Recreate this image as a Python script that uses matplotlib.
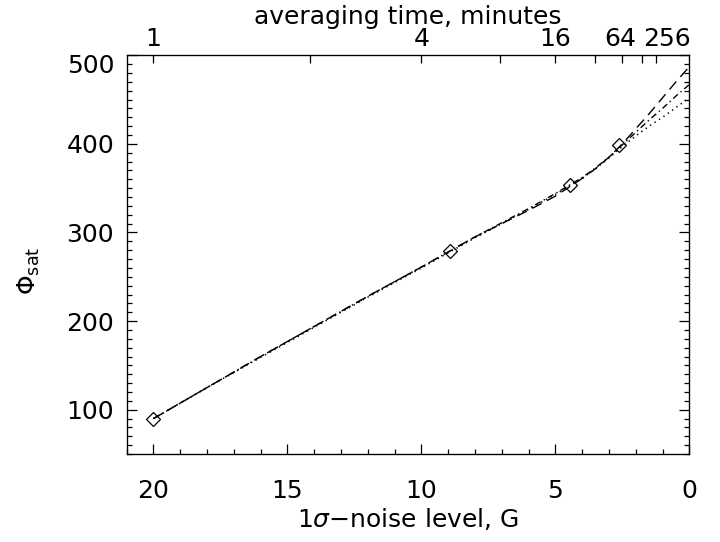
import numpy as np
import matplotlib
matplotlib.use('Agg')
import matplotlib.pyplot as plt
from matplotlib.ticker import MultipleLocator, FixedLocator, NullFormatter
from matplotlib.transforms import ScaledTranslation

# measured saturation flux vs. noise level
noise_obs = [20.0, 8.94, 4.47, 2.63]
phi_obs = [90, 279, 354, 399]

# fitted curves, sampled along the noise axis
fit_noise = [20, 18, 16, 14, 12, 10, 9, 8, 7, 6, 5, 4.5, 4, 3.5, 3, 2.5, 2, 1.5, 1, 0.5, 0]
phi_dashed = [90, 125, 160, 194, 228, 261, 278, 295, 310, 325, 341, 351, 361, 372, 385, 400, 417, 434, 452, 470, 487]
phi_dashdot = [90, 125, 160, 194, 228, 261, 278, 295, 311, 327, 344, 353, 362, 373, 385, 399, 413, 427, 440, 454, 467]
phi_dotted = [90, 125, 159, 193, 227, 260, 277, 294, 310, 326, 343, 352, 361, 372, 384, 397, 409, 420, 430, 441, 452]

# averaging times for the top axis (noise ~ 20 G / sqrt(t))
top_times = [1, 4, 16, 64, 256]
top_minor_times = [2, 8, 32, 128]

plt.rcParams['font.family'] = ['DejaVu Sans']
plt.rcParams['mathtext.fontset'] = 'dejavusans'
fs = 18

fig = plt.figure(figsize=(7.2, 5.42), dpi=100)
ax = fig.add_axes([126.7 / 720, 1 - 454 / 542, (689.3 - 126.7) / 720, (454 - 55.3) / 542])

ax.plot(fit_noise, phi_dashed, color='black', lw=1.0, dashes=(7.5, 4.5))
ax.plot(fit_noise, phi_dashdot, color='black', lw=1.0, dashes=(4.5, 2.5, 1, 2.5))
ax.plot(fit_noise, phi_dotted, color='black', lw=1.1, dashes=(0.9, 2.6))
ax.plot(noise_obs, phi_obs, ls='none', marker='D', ms=7.5, mfc='none', mec='black', mew=0.9)

ax.set_xlim(21, 0)
ax.set_ylim(50, 500)

ax.xaxis.set_major_locator(MultipleLocator(5))
ax.xaxis.set_minor_locator(MultipleLocator(1))
ax.yaxis.set_major_locator(MultipleLocator(100))
ax.yaxis.set_minor_locator(MultipleLocator(10))
ax.tick_params(which='both', direction='in', top=False, right=True, labelsize=fs, width=0.9)
ax.tick_params(which='major', length=7.5)
ax.tick_params(which='minor', length=3.7)
ax.tick_params(axis='x', pad=18)
ax.tick_params(axis='y', pad=9)

ax.set_xlabel('1$\\sigma$\u2212noise level, G', fontsize=fs, labelpad=2)
ax.set_ylabel('$\\Phi_{\\rm sat}$', fontsize=fs)
ax.yaxis.set_label_coords(-0.15, 0.46)

for sp in ax.spines.values():
    sp.set_linewidth(0.9)

# top axis in averaging time
ax2 = ax.twiny()
ax2.set_xlim(ax.get_xlim())
ax2.xaxis.set_major_locator(FixedLocator([20 / np.sqrt(t) for t in top_times]))
ax2.xaxis.set_minor_locator(FixedLocator([20 / np.sqrt(t) for t in top_minor_times]))
ax2.set_xticklabels([str(t) for t in top_times])
ax2.xaxis.set_minor_formatter(NullFormatter())
ax2.tick_params(which='both', direction='in', length=5.5, width=0.9, labelsize=fs, pad=3)
ax2.set_xlabel('averaging time, minutes', fontsize=fs, labelpad=2)

fig.canvas.draw()
# the top y label sits a little lower
for lab in ax.get_yticklabels():
    if lab.get_text() == '500':
        lab.set_transform(lab.get_transform() + ScaledTranslation(0, -8 / 100, fig.dpi_scale_trans))
# spread the crowded labels at the right end of the top axis
shifts = {'64': -2, '256': 11}
for lab in ax2.get_xticklabels():
    if lab.get_text() in shifts:
        lab.set_transform(lab.get_transform() + ScaledTranslation(shifts[lab.get_text()] / 100, 0, fig.dpi_scale_trans))

fig.savefig('out.png', dpi=100)
